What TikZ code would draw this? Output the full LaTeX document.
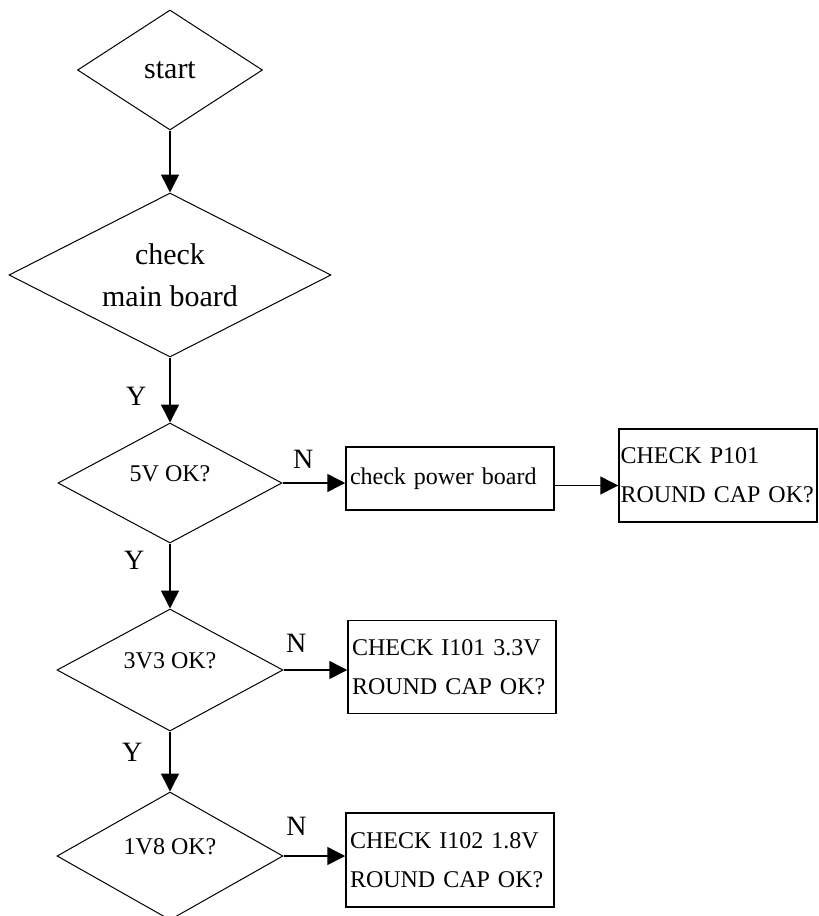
\documentclass[tikz,border=0pt]{standalone}
\usepackage{fontspec}
\setmainfont{Liberation Serif}
\usetikzlibrary{shapes.geometric,arrows.meta}

\begin{document}
\begin{tikzpicture}[x=1pt, y=-1pt,
    decision/.style={diamond, draw, line width=1pt, inner sep=0pt, aspect=1.85,
      font=\fontsize{24}{28}\selectfont, text height=16pt, text depth=20pt},
    bigdecision/.style={diamond, draw, line width=1pt, inner sep=0pt, aspect=2,
      align=center, font=\fontsize{30}{42}\selectfont},
    action/.style={rectangle, draw, line width=1.5pt, inner xsep=4pt, inner ysep=0pt,
      align=left, font=\fontsize{24}{39}\selectfont},
    flow/.style={line width=1.5pt, -{Triangle[width=18pt,length=18pt]}},
    yn/.style={inner sep=2pt, font=\fontsize{28}{30}\selectfont}]
  \useasboundingbox (0, 0) rectangle (819, 916);

  % Nodes
  \node[bigdecision, minimum width=185pt, minimum height=120pt] at (170, 70) (start) {start};
  \node[bigdecision, minimum width=322pt, minimum height=164pt] at (170, 275) (mainboard) {check\\main board};
  \node[decision, minimum width=224pt, minimum height=120pt] at (170, 483) (fivev) {5V OK?};
  \node[decision, minimum width=226pt, minimum height=122pt] at (170, 670) (threev) {3V3 OK?};
  \node[decision, minimum width=226pt, minimum height=128pt] at (170, 856) (onev) {1V8 OK?};

  \node[action, text width=200pt, minimum height=63pt] at (450, 478.5) (power) {check power board};
  \node[action, inner xsep=1.5pt, text width=195pt, minimum height=93pt] at (718, 475.5) (pcap) {CHECK P101\\ROUND CAP OK?};
  \node[action, text width=200pt, minimum height=93pt] at (452, 667) (icap) {CHECK I101 3.3V\\ROUND CAP OK?};
  \node[action, text width=200pt, minimum height=94pt] at (450, 860) (iicap) {CHECK I102 1.8V\\ROUND CAP OK?};

  % Yes branch, straight down
  \draw[flow] (start) -- (mainboard);
  \draw[flow] (mainboard) -- node[yn, pos=0.6, left, xshift=-21pt] {Y} (fivev);
  \draw[flow] (fivev) -- node[yn, pos=0.26, left, xshift=-23pt] {Y} (threev);
  \draw[flow] (threev) -- node[yn, pos=0.34, left, xshift=-25pt] {Y} (onev);

  % No branch, to the right
  \draw[flow] (fivev.east) -- node[yn, pos=0.33, above, yshift=12pt] {N} (fivev.east -| power.west);
  \draw[flow] ([yshift=-7pt]power.east) -- ([yshift=-7pt]power.east -| pcap.west);
  \draw[flow] (threev.east) -- node[yn, pos=0.2, above, yshift=15pt] {N} (threev.east -| icap.west);
  \draw[flow] (onev.east) -- node[yn, pos=0.21, above, yshift=18pt] {N} (onev.east -| iicap.west);
\end{tikzpicture}
\end{document}
